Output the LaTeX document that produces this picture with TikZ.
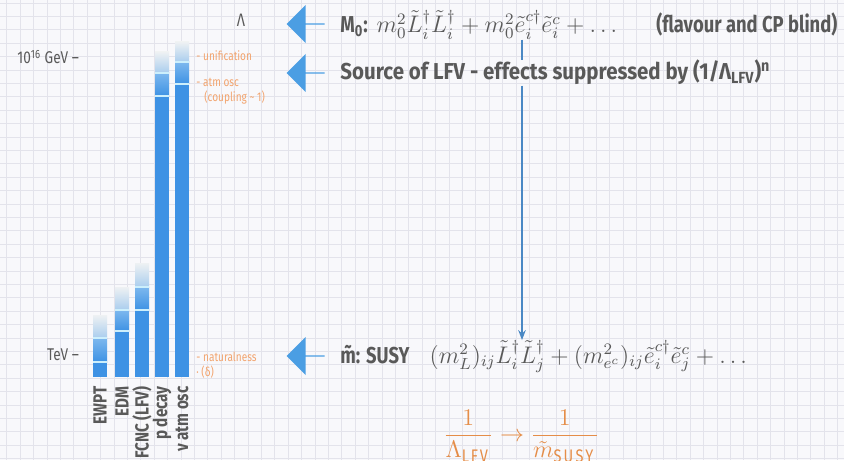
\documentclass[tikz,border=0pt]{standalone}
\usepackage{amsmath}
\usepackage{fontspec}
\setmainfont{Fira Sans}[FakeStretch=0.8]
\newfontfamily\widefont{Fira Sans}[FakeStretch=0.89]
\usetikzlibrary{arrows.meta, positioning, calc, shapes.arrows}
\definecolor{paper}{HTML}{F8F8FB}
\definecolor{gridline}{HTML}{E3E3EB}
\definecolor{ink}{HTML}{595959}
\definecolor{arrowblue}{HTML}{4B9EE3}
\definecolor{barblue}{HTML}{3E92E4}
\definecolor{midblue}{HTML}{7DB8EE}
\definecolor{fadetop}{HTML}{EEF1F3}
\definecolor{fadebot}{HTML}{A9CDEE}
\definecolor{linkblue}{HTML}{4A88C4}
\definecolor{peach}{HTML}{F2A46E}
\definecolor{fracorange}{HTML}{E58D48}

\begin{document}
\begin{tikzpicture}[
    x=0.5pt, y=-0.5pt,
    >=Stealth,
    fat/.style={single arrow, shape border rotate=180, fill=arrowblue, draw=none,
        minimum width=19pt, minimum height=19pt, single arrow head extend=6pt, inner sep=0pt},
    txt/.style={anchor=base west, inner sep=0pt, text=ink, font=\fontsize{11.5}{13}\selectfont\bfseries},
    tick/.style={anchor=base east, text=ink, font=\fontsize{8.5}{10}\selectfont},
    note/.style={anchor=west, text=peach, font=\fontsize{6.3}{7.5}\selectfont, align=left, inner sep=0pt},
    barlbl/.style={rotate=90, anchor=east, text=ink, font=\fontsize{9.5}{11}\selectfont\bfseries, inner sep=0pt},
]
% === Paper background ===
\useasboundingbox (0,0) rectangle (844,460);
\fill[paper] (0,0) rectangle (844,460);
\foreach \gx in {6.7,20.1,...,844} {
    \draw[gridline, line width=0.4pt] (\gx,0) -- (\gx,460);
}
\foreach \gy in {3,16.4,...,460} {
    \draw[gridline, line width=0.4pt] (0,\gy) -- (844,\gy);
}
% === Energy axis ===
\node[text=ink, font=\fontsize{9}{10}\selectfont] (lam) at (241,20) {Λ};
\node[tick] (gut) at (86,64) {10\textsuperscript{16} GeV –};
\node[tick] (tev) at (86,360) {TeV –};
% === Bars: x / top / first line / second line ===
\foreach \xl/\tp/\la/\lb in {93/315/338/362, 115/287/310/331, 135/263/287/310, 155/52/73/96, 175/42/62/84} {
    \shade[top color=fadetop, bottom color=fadebot] (\xl,\tp) rectangle ({\xl+14},\la);
    \shade[top color=midblue, bottom color=barblue] (\xl,\la) rectangle ({\xl+14},\lb);
    \fill[barblue] (\xl,\lb) rectangle ({\xl+14},377);
    \draw[white!80!cyan, line width=0.6pt] (\xl,\la) -- ({\xl+14},\la);
    \draw[white!80!cyan, line width=0.6pt] (\xl,\lb) -- ({\xl+14},\lb);
}
% Bar labels
\node[barlbl] (ewpt) at (100,386) {EWPT};
\node[barlbl] (edm) at (122,386) {EDM};
\node[barlbl] (fcnc) at (142,386) {FCNC (LFV)};
\node[barlbl] (pdec) at (162,386) {p decay};
\node[barlbl] (nuosc) at (182,386) {ν atm osc};
% Scale notes
\node[note] (unif) at (196,56) {- unification};
\node[note] (atm) at (196,91) {- atm osc\\\hspace*{4pt}(coupling \textasciitilde{} 1)};
\node[note] (nat) at (196,365) {- naturalness\\· (δ)};
% === Fat arrows ===
\node[fat] (a1) at (306,24) {};
\node[fat] (a2) at (306,73) {};
\node[fat] (a3) at (306,356) {};
% === Texts ===
\node[txt] (m0) at (340,33) {M\textsubscript{0}:\ \ \mdseries$m_0^2\tilde{L}_i^\dagger\tilde{L}_i^\dagger + m_0^2\tilde{e}_i^{c\dagger}\tilde{e}_i^c + \ldots$};
\node[txt] (blind) at (656,33) {(flavour and CP blind)};
\node[txt, font=\fontsize{11.5}{13}\selectfont\widefont\bfseries] (lfv) at (340,80) {Source of LFV - effects suppressed by (1/Λ\textsubscript{LFV})\textsuperscript{n}};
\node[txt] (soft) at (340,363) {\~{m}: SUSY\hspace{10pt}\mdseries$(m_L^2)_{ij}\tilde{L}_i^\dagger\tilde{L}_j^\dagger + (m_{e^c}^2)_{ij}\tilde{e}_i^{c\dagger}\tilde{e}_j^c + \ldots$};
\node[text=fracorange, font=\fontsize{13}{15}\selectfont] (frac) at (521,436) {$\displaystyle\frac{1}{\Lambda_{\mathrm{LFV}}} \to \frac{1}{\tilde{m}_{\mathrm{SUSY}}}$};
% === Link from universal to soft terms ===
\coordinate (v) at (522,0);
\draw[linkblue, line width=1pt] (m0.south -| v) -- (lfv.north -| v);
\draw[linkblue, line width=1pt, -{Stealth[length=5pt]}] (lfv.south -| v) -- (soft.north -| v);
\end{tikzpicture}
\end{document}
